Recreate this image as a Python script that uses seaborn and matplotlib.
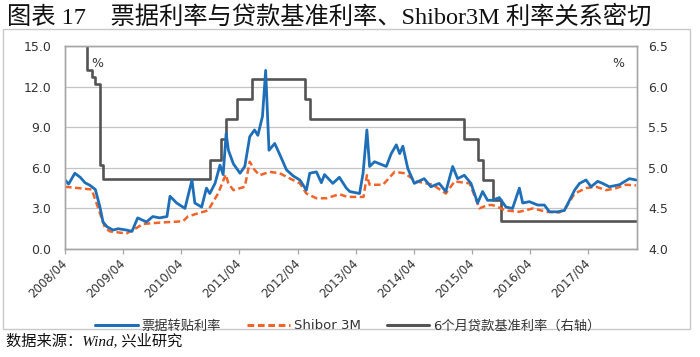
import matplotlib
matplotlib.use("Agg")
import matplotlib.pyplot as plt
from matplotlib.patches import Rectangle
from matplotlib.lines import Line2D
import pandas as pd
import seaborn as sns

# 票据转贴利率 (left axis, %)
bill_dates = [
    "2008-04-01", "2008-04-23", "2008-06-01", "2008-07-05", "2008-08-04", "2008-09-05",
    "2008-10-08", "2008-11-06", "2008-11-25", "2008-12-20", "2009-01-27", "2009-03-01",
    "2009-04-22", "2009-05-26", "2009-07-01", "2009-08-25", "2009-10-04", "2009-11-16",
    "2010-01-01", "2010-01-20", "2010-03-03", "2010-04-24", "2010-06-07", "2010-06-25",
    "2010-08-07", "2010-09-06", "2010-09-27", "2010-10-30", "2010-11-30", "2010-12-20",
    "2011-01-08", "2011-01-22", "2011-02-22", "2011-04-05", "2011-05-05", "2011-06-05",
    "2011-07-05", "2011-07-26", "2011-08-24", "2011-09-13", "2011-10-04", "2011-11-09",
    "2011-12-10", "2012-01-22", "2012-03-04", "2012-04-15", "2012-05-26", "2012-06-16",
    "2012-07-28", "2012-08-28", "2012-09-17", "2012-11-08", "2012-12-19", "2013-02-01",
    "2013-02-22", "2013-04-25", "2013-05-17", "2013-06-10", "2013-06-27", "2013-07-28",
    "2013-08-29", "2013-10-10", "2013-11-10", "2013-12-12", "2014-01-02", "2014-01-22",
    "2014-02-22", "2014-04-04", "2014-06-05", "2014-07-17", "2014-09-07", "2014-10-19",
    "2014-12-01", "2015-01-01", "2015-02-12", "2015-03-26", "2015-05-07", "2015-06-07",
    "2015-07-08", "2015-08-08", "2015-09-20", "2015-11-01", "2015-12-12", "2016-01-24",
    "2016-02-14", "2016-03-27", "2016-05-18", "2016-06-29", "2016-07-31", "2016-09-21",
    "2016-11-02", "2016-12-04", "2017-01-05", "2017-02-05", "2017-03-18", "2017-04-18",
    "2017-05-30", "2017-06-30", "2017-08-11", "2017-10-13", "2017-12-15", "2018-01-26",
]
bill_rate = [
    5.1, 4.8, 5.6, 5.3, 4.9, 4.7,
    4.4, 3.1, 2.0, 1.65, 1.4, 1.5,
    1.4, 1.3, 2.3, 2.0, 2.4, 2.3,
    2.4, 3.9, 3.4, 3.0, 5.1, 3.4,
    3.1, 4.5, 4.1, 4.85, 6.2, 5.5,
    8.55, 7.3, 6.3, 5.6, 6.1, 8.3,
    8.8, 8.4, 9.8, 13.2, 7.3, 7.8,
    7.0, 5.85, 5.4, 5.1, 4.35, 5.6,
    5.7, 4.9, 5.5, 4.85, 5.3, 4.5,
    4.25, 4.1, 5.6, 8.8, 6.1, 6.45,
    6.3, 6.1, 7.05, 7.7, 7.05, 7.6,
    5.95, 4.85, 5.2, 4.6, 4.85, 4.25,
    6.1, 5.2, 5.45, 4.85, 3.4, 4.25,
    3.6, 3.6, 3.8, 3.1, 3.0, 4.5,
    3.4, 3.5, 3.25, 3.25, 2.75, 2.75,
    2.85, 3.6, 4.35, 4.85, 5.1, 4.6,
    5.0, 4.85, 4.6, 4.75, 5.2, 5.1,
]

# Shibor 3M (left axis, %)
shibor_dates = [
    "2008-04-01", "2008-09-15", "2008-11-06", "2008-12-08", "2009-01-08", "2009-04-22",
    "2009-06-23", "2009-08-03", "2009-11-16", "2010-04-12", "2010-05-12", "2010-07-05",
    "2010-09-16", "2010-11-18", "2011-01-05", "2011-01-22", "2011-02-22", "2011-05-05",
    "2011-06-05", "2011-07-05", "2011-08-06", "2011-10-08", "2011-12-10", "2012-02-14",
    "2012-04-15", "2012-05-26", "2012-07-28", "2012-09-28", "2012-12-19", "2013-02-08",
    "2013-05-20", "2013-06-10", "2013-06-27", "2013-09-19", "2013-12-01", "2014-02-03",
    "2014-04-15", "2014-07-29", "2014-10-19", "2014-12-13", "2015-03-17", "2015-04-17",
    "2015-05-18", "2015-07-08", "2015-08-08", "2015-11-01", "2016-01-24", "2016-04-19",
    "2016-07-11", "2016-10-02", "2016-11-13", "2017-01-05", "2017-03-18", "2017-05-20",
    "2017-07-22", "2017-09-24", "2017-11-25", "2018-01-26",
]
shibor_rate = [
    4.6, 4.4, 2.65, 1.55, 1.3, 1.15,
    1.55, 1.85, 1.95, 2.05, 2.4, 2.6,
    2.85, 4.1, 5.5, 4.85, 4.35, 4.6,
    6.45, 5.85, 5.45, 5.7, 5.6, 5.2,
    4.85, 4.1, 3.75, 3.75, 4.05, 3.85,
    3.85, 5.45, 4.75, 4.75, 5.7, 5.6,
    5.0, 4.75, 4.1, 5.0, 4.85, 3.95,
    3.0, 3.25, 3.25, 2.85, 2.75, 3.0,
    2.75, 2.7, 3.1, 4.1, 4.5, 4.6,
    4.35, 4.5, 4.75, 4.7,
]

# 6个月贷款基准利率 (right axis, %), dates where the rate changes
loan_dates = [
    "2008-04-01", "2008-08-15", "2008-09-17", "2008-10-08", "2008-11-06", "2008-11-28",
    "2010-09-27", "2010-12-08", "2011-01-10", "2011-03-14", "2011-06-17", "2012-05-15",
    "2012-06-16", "2015-02-10", "2015-05-08", "2015-06-09", "2015-08-11", "2015-10-02",
    "2018-02-01",
]
loan_rate = [
    6.57, 6.21, 6.12, 6.03, 5.04, 4.86,
    5.10, 5.35, 5.60, 5.85, 6.10, 5.85,
    5.60, 5.35, 5.10, 4.85, 4.60, 4.35,
    4.35,
]

tick_dates = ["2008-04-01", "2009-04-01", "2010-04-01", "2011-04-01", "2012-04-01",
              "2013-04-01", "2014-04-01", "2015-04-01", "2016-04-01", "2017-04-01"]
tick_labels = ["2008/04", "2009/04", "2010/04", "2011/04", "2012/04",
               "2013/04", "2014/04", "2015/04", "2016/04", "2017/04"]
left_ticks = [0, 3, 6, 9, 12, 15]
right_ticks = [4.0, 4.5, 5.0, 5.5, 6.0, 6.5]

names = ["票据转贴利率", "Shibor 3M", "6个月贷款基准利率（右轴）"]
colors = ["#1f6fb8", "#f0642a", "#545454"]

sns.set_theme(style="white")
plt.rcParams["font.family"] = ["DejaVu Sans", "Noto Sans CJK SC"]
plt.rcParams["axes.unicode_minus"] = False

bill_df = pd.DataFrame({"date": pd.to_datetime(bill_dates), "rate": bill_rate})
shibor_df = pd.DataFrame({"date": pd.to_datetime(shibor_dates), "rate": shibor_rate})
loan_df = pd.DataFrame({"date": pd.to_datetime(loan_dates), "rate": loan_rate})

fig = plt.figure(figsize=(7.0, 3.57), dpi=100)
fig.subplots_adjust(left=0.093, right=0.910, bottom=0.3025, top=0.871)
ax2 = fig.add_subplot(111)
ax = ax2.twinx()
# left-axis series are drawn on top of the loan-rate line
ax.yaxis.tick_left()
ax.yaxis.set_label_position("left")
ax2.yaxis.tick_right()
ax2.yaxis.set_label_position("right")

sns.lineplot(data=loan_df, x="date", y="rate", ax=ax2, color=colors[2], lw=1.9,
             drawstyle="steps-post", errorbar=None, legend=False)
sns.lineplot(data=shibor_df, x="date", y="rate", ax=ax, color=colors[1], lw=1.8,
             linestyle=(0, (2.6, 1.4)), errorbar=None, legend=False)
sns.lineplot(data=bill_df, x="date", y="rate", ax=ax, color=colors[0], lw=2.0,
             errorbar=None, legend=False)

xmin, xmax = pd.Timestamp("2008-04-01"), pd.Timestamp("2018-02-01")
for a in (ax, ax2):
    a.set_xlim(xmin, xmax)
    a.set_xlabel("")
    a.set_ylabel("")
    for s in a.spines.values():
        s.set_color("#a6a6a6")
        s.set_linewidth(1.0)

ax.set_ylim(0, 15)
ax.set_yticks(left_ticks)
ax.set_yticklabels([f"{v:.1f}" for v in left_ticks])
ax2.set_ylim(4.0, 6.5)
ax2.set_yticks(right_ticks)
ax2.set_yticklabels([f"{v:.1f}" for v in right_ticks])
ax2.yaxis.grid(True, color="#c4c4c4", lw=0.9)
ax2.xaxis.grid(False)
ax.grid(False)

ax2.set_xticks(pd.to_datetime(tick_dates))
ax2.set_xticklabels(tick_labels, rotation=45, ha="right", va="center",
                    rotation_mode="anchor", fontsize=8.5, color="#333333")
ax2.tick_params(axis="x", bottom=True, length=3.5, width=0.9, color="#a6a6a6", pad=5)
ax.tick_params(axis="x", bottom=False, labelbottom=False)
ax.tick_params(axis="y", length=0, labelsize=9, pad=10, labelcolor="#333333")
ax2.tick_params(axis="y", length=0, labelsize=9, pad=8, labelcolor="#333333")

ax.text(0.056, 0.915, "%", transform=ax.transAxes, fontsize=9, color="#333333",
        ha="center", va="center")
ax.text(0.968, 0.915, "%", transform=ax.transAxes, fontsize=9, color="#333333",
        ha="center", va="center")

handles = [
    Line2D([], [], color=colors[0], lw=2.2),
    Line2D([], [], color=colors[1], lw=2.2, linestyle=(0, (2.2, 1.2))),
    Line2D([], [], color=colors[2], lw=2.2),
]
fig.legend(handles, names, loc="center", bbox_to_anchor=(0.497, 0.087), ncol=3,
           frameon=False, fontsize=9.5, handlelength=3.2, handletextpad=0.3,
           columnspacing=2.0, labelcolor="#333333")

# outer frame around the chart
fig.patches.append(Rectangle((3 / 700, 1 - 329 / 357), 687 / 700, 300 / 357,
                             transform=fig.transFigure, fill=False,
                             edgecolor="#c8c8c8", lw=1.0))

fig.text(0.010, 0.953, "图表 17    票据利率与贷款基准利率、Shibor3M 利率关系密切",
         family=["Liberation Serif", "Noto Sans CJK SC"], fontsize=17.5,
         ha="left", va="center", color="#111111")
fig.text(0.008, 0.045, "数据来源：Wind, 兴业研究",
         family=["Liberation Serif", "Noto Sans CJK SC"], style="italic",
         fontsize=11, ha="left", va="center", color="#111111")

fig.savefig("out.png", dpi=100, facecolor="white")
